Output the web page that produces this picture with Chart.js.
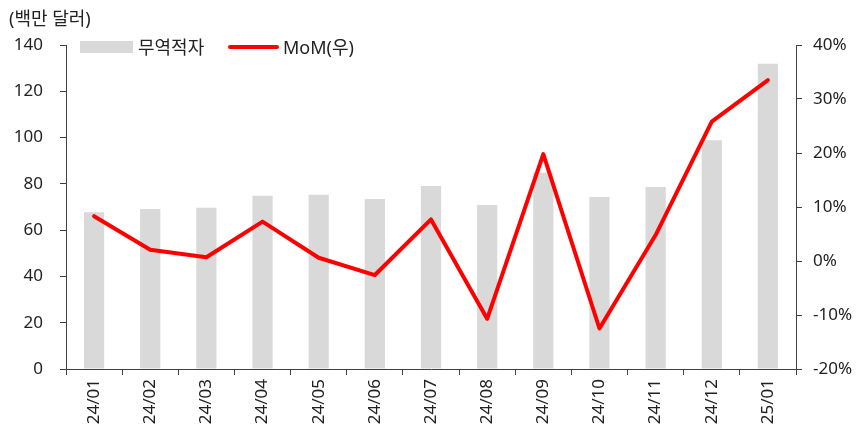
<!DOCTYPE html>
<html>
<head>
<meta charset="utf-8">
<script src="https://cdn.jsdelivr.net/npm/chart.js@4"></script>
<style>
  body { margin: 0; background: #fff; font-family: "Noto Sans", "Noto Sans CJK KR", sans-serif; color: #222; }
  .wrap { position: relative; width: 866px; height: 436px; }
  canvas { position: absolute; left: 0; top: 0; }
  .unit { position: absolute; left: 9px; top: 5px; font-size: 18px; line-height: 26px; }
  .lg { position: absolute; font-size: 18px; line-height: 26px; top: 34px; }
  .box { position: absolute; left: 80px; top: 41px; width: 53px; height: 12px; background: #d9d9d9; }
  .ln { position: absolute; left: 228px; top: 45px; width: 51px; height: 4px; background: #ff0000; border-radius: 2px; }
</style>
</head>
<body>
<div class="wrap">
  <canvas id="chart" width="866" height="436"></canvas>
  <div class="unit">(백만 달러)</div>
  <span class="box"></span><span class="lg" style="left:138px">무역적자</span>
  <span class="ln"></span><span class="lg" style="left:283px">MoM(우)</span>
</div>
<script>
// 월별 무역적자 (백만 달러)와 전월 대비 증감률 (%)
const months = ['24/01', '24/02', '24/03', '24/04', '24/05', '24/06', '24/07',
                '24/08', '24/09', '24/10', '24/11', '24/12', '25/01'];
const deficit = [67.7, 69.1, 69.7, 74.9, 75.3, 73.5, 79.1, 70.9, 84.8, 74.3, 78.6, 98.8, 131.9];
const mom = [8.3, 2.1, 0.7, 7.3, 0.6, -2.6, 7.7, -10.7, 19.8, -12.5, 4.8, 25.8, 33.5];

const axisColor = '#404040';
const tickFont = { family: '"Noto Sans", "Noto Sans CJK KR", sans-serif', size: 17 };

new Chart(document.getElementById('chart'), {
    type: 'bar',
    data: {
        labels: months,
        datasets: [
            {
                type: 'line',
                label: 'MoM(우)',
                data: mom,
                yAxisID: 'y1',
                borderColor: '#ff0000',
                borderWidth: 4,
                borderCapStyle: 'round',
                borderJoinStyle: 'round',
                pointRadius: 0,
                tension: 0,
                order: 0
            },
            {
                label: '무역적자',
                data: deficit,
                yAxisID: 'y',
                backgroundColor: '#d9d9d9',
                barPercentage: 0.36,
                categoryPercentage: 1,
                order: 1
            }
        ]
    },
    options: {
        responsive: false,
        animation: false,
        layout: { padding: { top: 45, left: 0, right: 0, bottom: 0 } },
        plugins: { legend: { display: false }, tooltip: { enabled: false } },
        scales: {
            x: {
                grid: { drawOnChartArea: false, tickLength: 6, color: axisColor },
                border: { color: axisColor },
                ticks: { color: '#222', font: tickFont, maxRotation: 90, minRotation: 90, padding: 4 },
                afterFit: s => { s.height = 67; }
            },
            y: {
                position: 'left',
                min: 0, max: 140,
                grid: { drawOnChartArea: false, tickLength: 6, color: axisColor },
                border: { color: axisColor },
                ticks: { stepSize: 20, color: '#222', font: tickFont, padding: 17 },
                afterFit: s => { s.width = 66; }
            },
            y1: {
                position: 'right',
                min: -20, max: 40,
                grid: { drawOnChartArea: false, tickLength: 6, color: axisColor },
                border: { color: axisColor },
                ticks: { stepSize: 10, color: '#222', font: tickFont, padding: 11,
                         callback: v => v + '%' },
                afterFit: s => { s.width = 70; }
            }
        }
    }
});
</script>
</body>
</html>
